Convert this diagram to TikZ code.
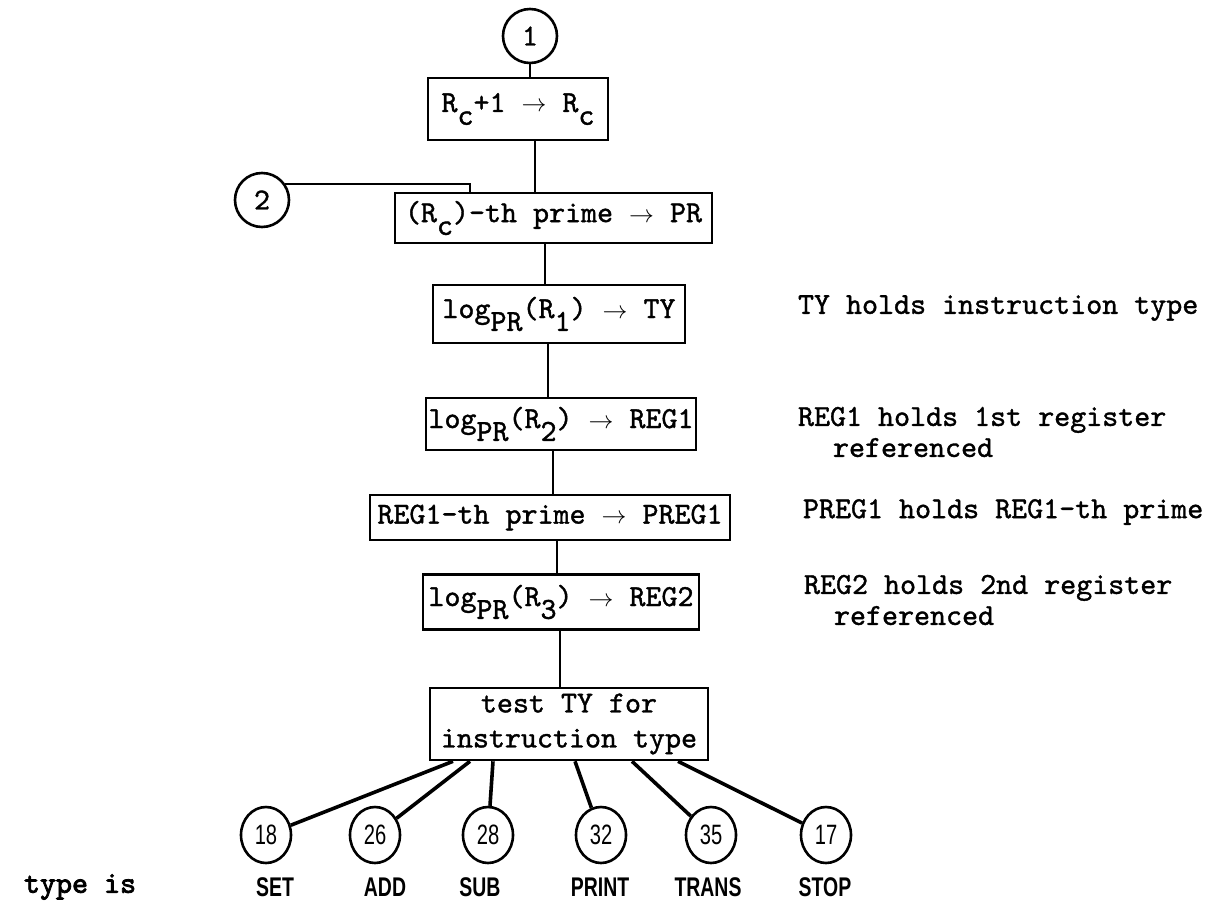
\documentclass[tikz,border=0pt]{standalone}
\usepackage{fontspec}
\setmonofont[Extension=.otf, FakeBold=1.2]{lmmono10-regular}
\newfontfamily\negrita[Extension=.otf, FakeBold=2.6]{lmmono10-regular}
\newfontfamily\etiqfont[FakeStretch=0.72]{Liberation Sans}
\usepackage{tikz}
\usetikzlibrary{shapes.geometric}

\newcommand{\bajo}[1]{\raisebox{-0.42em}{#1}}
\newcommand{\flecha}{\ensuremath{\rightarrow}}

\begin{document}
\begin{tikzpicture}[x=1pt, y=-1pt, line width=2pt,
          caja/.style={draw, rectangle, line width=2.6pt, inner sep=0pt, align=center,
            font=\ttfamily\fontsize{30.5}{35}\selectfont},
          nota/.style={anchor=west, align=left, inner sep=0pt,
            font=\ttfamily\fontsize{30.5}{31}\selectfont},
          conector/.style={draw, circle, line width=2.6pt, minimum size=54pt, inner sep=0pt,
            font=\ttfamily\fontsize{30.5}{31}\selectfont},
          salida/.style={draw, ellipse, line width=2.6pt, minimum width=50pt, minimum height=56pt,
            inner sep=0pt, font=\etiqfont\fontsize{28}{30}\selectfont},
          tipo/.style={inner sep=0pt, font=\etiqfont\bfseries\fontsize{27}{30}\selectfont},
          rama/.style={line width=3.6pt}
        ]
        \useasboundingbox (0,0) rectangle (1208,910);

        % cadena principal
        \node[conector] (c1) at (530,36) {1};
        \node[caja, minimum width=180pt, minimum height=62pt] (incr) at (518,109) {R\bajo{c}+1 \flecha{} R\bajo{c}};
        \node[conector] (c2) at (262,200) {2};
        \node[caja, minimum width=317pt, minimum height=50pt] (primo) at (553.5,218) {(R\bajo{c})-th prime \flecha{} PR};
        \node[caja, minimum width=252pt, minimum height=58pt] (logty) at (559,314) {log\bajo{PR}(R\bajo{1}) \flecha{} TY};
        \node[caja, minimum width=270pt, minimum height=52pt] (logreg1) at (561,424) {log\bajo{PR}(R\bajo{2}) \flecha{} REG1};
        \node[caja, minimum width=360pt, minimum height=45pt] (preg1) at (550,517.5) {REG1-th prime \flecha{} PREG1};
        \node[caja, minimum width=276pt, minimum height=55pt] (logreg2) at (561,602) {log\bajo{PR}(R\bajo{3}) \flecha{} REG2};
        \node[caja, minimum width=278pt, minimum height=72pt] (prueba) at (569,724) {test TY for\\instruction type};

        % notas a la derecha
        \node[nota] (n1) at (797,308) {TY holds instruction type};
        \node[nota] (n2) at (797,432) {REG1 holds 1st register\\\hspace{35pt}referenced};
        \node[nota] (n3) at (802,512) {PREG1 holds REG1-th prime};
        \node[nota] (n4) at (803,600) {REG2 holds 2nd register\\\hspace{30pt}referenced};

        % salidas
        \node[salida] (s18) at (266,835) {18};
        \node[salida] (s26) at (375,835) {26};
        \node[salida] (s28) at (488,835) {28};
        \node[salida] (s32) at (601,835) {32};
        \node[salida] (s35) at (711,835) {35};
        \node[salida] (s17) at (826,835) {17};

        \node[nota, font=\negrita\fontsize{30.5}{31}\selectfont] (tipoes) at (23,887) {type is};
        \node[tipo] (set)   at (275,887) {SET};
        \node[tipo] (add)   at (385,887) {ADD};
        \node[tipo] (sub)   at (480,887) {SUB};
        \node[tipo] (print) at (600,887) {PRINT};
        \node[tipo] (trans) at (708,887) {TRANS};
        \node[tipo] (stop)  at (825,887) {STOP};

        % lineas verticales
        \draw (c1) -- (c1 |- incr.north);
        \draw (incr.south -| 535,0) -- (primo.north -| 535,0);
        \draw (c2.35) -| (primo.north -| 470,0);
        \draw (primo.south -| 545,0) -- (logty.north -| 545,0);
        \draw (logty.south -| 548,0) -- (logreg1.north -| 548,0);
        \draw (logreg1.south -| 553,0) -- (preg1.north -| 553,0);
        \draw (preg1.south -| 557,0) -- (logreg2.north -| 557,0);
        \draw (logreg2.south -| 560,0) -- (prueba.north -| 560,0);

        % ramas del test
        \draw[rama] (prueba.south -| 453,0) -- (s18);
        \draw[rama] (prueba.south -| 470,0) -- (s26);
        \draw[rama] (prueba.south -| 493,0) -- (s28);
        \draw[rama] (prueba.south -| 575,0) -- (s32);
        \draw[rama] (prueba.south -| 632,0) -- (s35);
        \draw[rama] (prueba.south -| 678,0) -- (s17);
      \end{tikzpicture}
\end{document}
